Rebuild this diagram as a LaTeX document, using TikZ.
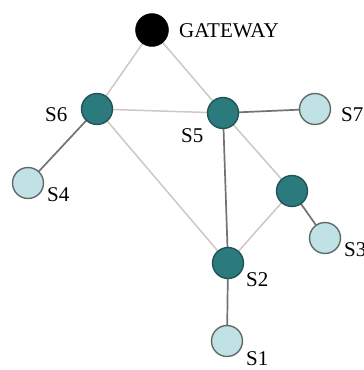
\documentclass[tikz,border=0pt]{standalone}
\usepackage{fontspec}
\setmainfont{Liberation Serif}
\definecolor{darkfill}{RGB}{42,122,126}
\definecolor{darkedge}{RGB}{32,84,88}
\definecolor{lightfill}{RGB}{192,226,229}
\definecolor{lightedge}{RGB}{95,105,105}
\definecolor{linklight}{RGB}{206,200,192}
\definecolor{linkdark}{RGB}{115,115,115}
\tikzset{
  darknode/.style={circle, fill=darkfill, draw=darkedge, line width=1.4pt, minimum size=31pt, inner sep=0pt},
  lightnode/.style={circle, fill=lightfill, draw=lightedge, line width=1.4pt, minimum size=31pt, inner sep=0pt},
  gwnode/.style={circle, fill=black, draw=black, minimum size=33pt, inner sep=0pt},
  lbl/.style={font=\fontsize{21}{23}\selectfont, inner sep=0pt},
  linkl/.style={draw=linklight, line width=1.5pt},
  linkd/.style={draw=linkdark, line width=1.7pt}
}
\begin{document}
\begin{tikzpicture}[x=1pt,y=-1pt]
\useasboundingbox[fill=white] (0,0) rectangle (364,370);
% node positions
\coordinate (pgw) at (152,30);
\coordinate (p6) at (97,109);
\coordinate (p5) at (223,113);
\coordinate (p7) at (315,109);
\coordinate (p4) at (28,183);
\coordinate (pd) at (292,191);
\coordinate (p3) at (325,238);
\coordinate (p2) at (228,263);
\coordinate (p1) at (227,341);
% links
\draw[linkl] (pgw) -- (p6);
\draw[linkl] (pgw) -- (p5);
\draw[linkl] (p6) -- (p5);
\draw[linkd] (p6) -- (p4);
\draw[linkl] (p6) -- (p2);
\draw[linkd] (p5) -- (p7);
\draw[linkd] (p5) -- (p2);
\draw[linkl] (p5) -- (pd);
\draw[linkl] (pd) -- (p2);
\draw[linkd] (pd) -- (p3);
\draw[linkd] (p2) -- (p1);
% nodes
\node[gwnode] (gw) at (pgw) {};
\node[darknode] (s6) at (p6) {};
\node[darknode] (s5) at (p5) {};
\node[lightnode] (s7) at (p7) {};
\node[lightnode] (s4) at (p4) {};
\node[darknode] (sd) at (pd) {};
\node[lightnode] (s3) at (p3) {};
\node[darknode] (s2) at (p2) {};
\node[lightnode] (s1) at (p1) {};
% labels
\node[lbl, anchor=west] (lgw) at (179,31) {GATEWAY};
\node[lbl, anchor=west] (l6) at (45,115) {S6};
\node[lbl, anchor=west] (l5) at (181,136) {S5};
\node[lbl, anchor=west] (l7) at (341,115) {S7};
\node[lbl, anchor=west] (l4) at (47,195) {S4};
\node[lbl, anchor=west] (l3) at (344,250) {S3};
\node[lbl, anchor=west] (l2) at (246,280) {S2};
\node[lbl, anchor=west] (l1) at (246,359) {S1};
\end{tikzpicture}
\end{document}
